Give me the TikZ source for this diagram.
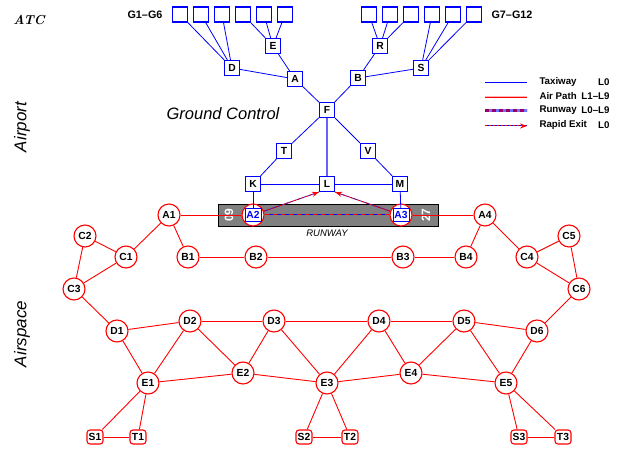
\documentclass[tikz,border=0pt]{standalone}
\usepackage{fontspec}
\setsansfont{Liberation Sans}
\usetikzlibrary{arrows.meta}
\begin{document}
\begin{tikzpicture}[x=1pt,y=-1pt,
  lbl/.style={font=\sffamily\bfseries\fontsize{10.3}{12}\selectfont},
  tbox/.style={lbl,draw=blue,line width=1.1pt,fill=white,minimum size=15pt,inner sep=0pt},
  apt/.style={lbl,circle,draw=red,line width=1.1pt,fill=white,minimum size=22pt,inner sep=0pt},
  term/.style={lbl,draw=red,line width=1.1pt,rounded corners=3pt,fill=white,minimum width=16pt,minimum height=14pt,inner sep=0pt},
  rwnode/.style={lbl,text=blue,draw=blue,line width=1pt,fill=white,minimum width=16pt,minimum height=13pt,inner sep=0pt},
  taxi/.style={blue,line width=0.8pt},
  taxiwide/.style={blue!60,line width=1.6pt},
  air/.style={red,line width=0.9pt},
  legtxt/.style={font=\sffamily\bfseries\fontsize{9.7}{11}\selectfont},
  tip/.style={-{Stealth[length=7pt,width=5pt]}}
]
\useasboundingbox (0,0) rectangle (624,449);

% runway strip
\node[draw=black,line width=0.8pt,fill=black!50,minimum width=220pt,minimum height=22pt,inner sep=0pt] (rw) at (328,215) {};
\node[rotate=90,text=white,font=\sffamily\bfseries\fontsize{12}{12}\selectfont] (n09) at (229,215) {09};
\node[rotate=90,text=white,font=\sffamily\bfseries\fontsize{12}{12}\selectfont] (n27) at (426,215) {27};
\node[font=\sffamily\itshape\fontsize{9.5}{11}\selectfont] (rwl) at (327,233) {RUNWAY};

% labels
\node[font=\rmfamily\bfseries\itshape\fontsize{13}{15}\selectfont] (atc) at (29,20) {ATC};
\node[font=\sffamily\bfseries\fontsize{10.8}{12}\selectfont] (gl) at (145,15) {G1--G6};
\node[font=\sffamily\bfseries\fontsize{10.8}{12}\selectfont] (gr) at (512,15) {G7--G12};
\node[font=\sffamily\itshape\fontsize{16.5}{18}\selectfont] (gc) at (223,114) {Ground Control};
\node[rotate=90,font=\sffamily\itshape\fontsize{17}{18}\selectfont] (apl) at (22,127) {Airport};
\node[rotate=90,font=\sffamily\itshape\fontsize{17}{18}\selectfont] (asl) at (22,334) {Airspace};

% gates
\foreach \i/\x in {1/180,2/201,3/222,4/243,5/264,6/285,7/369,8/390,9/411,10/432,11/453,12/474}
  \node[tbox] (g\i) at (\x,14.5) {};

% taxi nodes
\node[tbox] (E) at (273,46) {E};
\node[tbox] (D) at (232,68) {D};
\node[tbox] (A) at (295,79) {A};
\node[tbox] (R) at (380,46) {R};
\node[tbox] (S) at (421,68) {S};
\node[tbox] (B) at (358,78) {B};
\node[tbox] (F) at (327,110) {F};
\node[tbox] (T) at (284,151) {T};
\node[tbox] (V) at (368,151) {V};
\node[tbox] (K) at (253,184) {K};
\node[tbox] (L) at (327,184) {L};
\node[tbox] (M) at (400,184) {M};

% runway ends
\node[apt] (A2c) at (253,215) {};
\node[apt] (A3c) at (401,215) {};

% airspace nodes
\foreach \n/\x/\y in {A1/169/215,A4/485/215,C2/85/236,C1/126/257,C3/74/289,B1/188/257,B2/256/257,B3/403/257,B4/466/257,C4/527/257,C5/569/236,C6/579/289,D1/117/331,D2/190/321,D3/274/321,D4/379/321,D5/464/321,D6/537/331,E1/148/383,E2/243/373,E3/327/383,E4/411/373,E5/506/383}
  \node[apt] (\n) at (\x,\y) {\n};
\foreach \n/\x in {S1/95,T1/138,S2/304,T2/350,S3/519,T3/563}
  \node[term] (\n) at (\x,437) {\n};

% runway line
\draw[blue,line width=1pt] (A2c) -- (A3c);
\draw[red,line width=1pt,dash pattern=on 4pt off 4pt] (A2c) -- (A3c);
\node[rwnode] (A2) at (253,215) {A2};
\node[rwnode] (A3) at (401,215) {A3};

% taxiways
\foreach \g in {g1,g2,g3} \draw[taxi] (\g) -- (D);
\foreach \g in {g4,g5,g6} \draw[taxi] (\g) -- (E);
\foreach \g in {g7,g8,g9} \draw[taxi] (\g) -- (R);
\foreach \g in {g10,g11,g12} \draw[taxi] (\g) -- (S);
\draw[taxi] (D) -- (A);
\draw[taxi] (E) -- (A);
\draw[taxi] (A) -- (F);
\draw[taxi] (R) -- (B);
\draw[taxi] (S) -- (B);
\draw[taxi] (B) -- (F);
\draw[taxi] (F) -- (T);
\draw[taxi] (T) -- (K);
\draw[taxi] (F) -- (V);
\draw[taxi] (V) -- (M);
\draw[taxiwide] (F) -- (L);
\draw[taxi] (K) -- (L);
\draw[taxi] (L) -- (M);
\draw[taxi] (K) -- (A2);
\draw[taxi] (M) -- (A3);

% rapid exits
\draw[blue!70!red,line width=0.8pt] (A2c) -- (L.south west);
\draw[red,line width=0.8pt,dash pattern=on 2pt off 2pt,tip] (A2c) -- (L.south west);
\draw[blue!70!red,line width=0.8pt] (A3c) -- (L.south east);
\draw[red,line width=0.8pt,dash pattern=on 2pt off 2pt,tip] (A3c) -- (L.south east);

% air paths
\foreach \a/\b in {A1/A2c,A3c/A4,A1/C1,A1/B1,C1/C2,C2/C3,C1/C3,B1/B2,B2/B3,B3/B4,B4/A4,A4/C4,C4/C5,C5/C6,C4/C6,C3/D1,C6/D6,
  D1/D2,D2/D3,D3/D4,D4/D5,D5/D6,D1/E1,D2/E1,D2/E2,D3/E2,D3/E3,D4/E3,D4/E4,D5/E4,D5/E5,D6/E5,
  E1/E2,E2/E3,E3/E4,E4/E5,E1/S1,E1/T1,S1/T1,E3/S2,E3/T2,S2/T2,E5/S3,E5/T3,S3/T3}
  \draw[air] (\a) -- (\b);

% legend
\coordinate (l1a) at (485,83);  \coordinate (l1b) at (527,83);
\coordinate (l2a) at (485,97);  \coordinate (l2b) at (527,97);
\coordinate (l3a) at (485,111); \coordinate (l3b) at (527,111);
\coordinate (l4a) at (485,126); \coordinate (l4b) at (527,126);
\draw[blue,line width=1pt] (l1a) -- (l1b);
\draw[red!30,line width=2.6pt] (l2a) -- (l2b);
\draw[red,line width=0.9pt] (l2a) -- (l2b);
\draw[blue!55,line width=3pt] (l3a) -- (l3b);
\draw[red!60!blue,line width=3pt,dash pattern=on 4pt off 3pt] (l3a) -- (l3b);
\draw[blue,line width=1pt] (l4a) -- (l4b);
\draw[red,line width=1pt,dash pattern=on 2pt off 2pt,tip] (l4a) -- (l4b);
\node[legtxt,anchor=west] (t1) at (536,82) {Taxiway};
\node[legtxt,anchor=west] (t2) at (536,96) {Air Path};
\node[legtxt,anchor=west] (t3) at (536,110) {Runway};
\node[legtxt,anchor=west] (t4) at (536,125) {Rapid Exit};
\node[legtxt,anchor=east] (v1) at (613,82) {L0};
\node[legtxt,anchor=east] (v2) at (613,96) {L1--L9};
\node[legtxt,anchor=east] (v3) at (613,110) {L0--L9};
\node[legtxt,anchor=east] (v4) at (613,125) {L0};
\end{tikzpicture}
\end{document}
